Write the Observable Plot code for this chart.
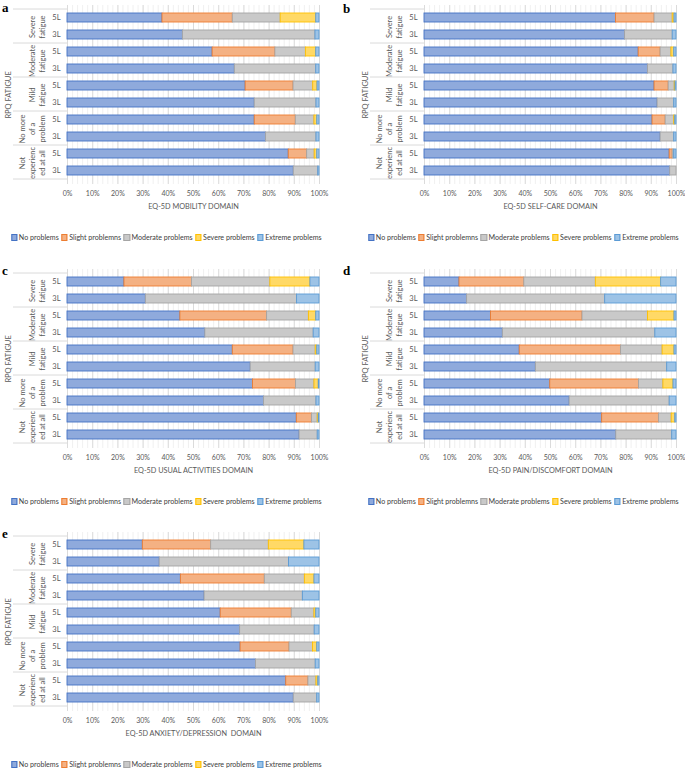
<!DOCTYPE html>
<html><head><meta charset="utf-8">
<script src="https://cdn.jsdelivr.net/npm/d3@7"></script>
<script src="https://cdn.jsdelivr.net/npm/@observablehq/plot@0.6"></script>
<style>
body{margin:0;background:#fff;font-family:Lato,"Open Sans",sans-serif;}
#root{position:relative;width:685px;height:770px;overflow:hidden;background:#fff;}
.panel{position:absolute;}
.panel svg{max-width:none;}
.letter{position:absolute;font-family:"Liberation Serif",serif;font-weight:bold;font-size:13px;line-height:1;color:#000;}
.legend{position:absolute;display:flex;white-space:nowrap;font-size:7.1px;color:#404040;align-items:center;transform:translateX(-50%);}
.sw{display:inline-block;width:4.5px;height:4.5px;border:1px solid;margin-right:1.5px;margin-left:2.5px;box-sizing:content-box;}
</style></head><body><div id="root"></div><script>
// ---- data ----
const groups = ["Severe fatigue","Moderate fatigue","Mild fatigue","No more of a problem","Not experienced at all"];
const groupLabels = ["Severe\nfatigue","Moderate\nfatigue","Mild\nfatigue","No more\nof a\nproblem","Not\nexperienc\ned at all"];
const versions = ["5L","3L"];
const levels = ["No problems","Slight problemns","Moderate problems","Severe problems","Extreme problems"];
const xTicks = [0,0.1,0.2,0.3,0.4,0.5,0.6,0.7,0.8,0.9,1];
// rows: Severe 5L, Severe 3L, Moderate 5L, Moderate 3L, Mild 5L, Mild 3L, NoMore 5L, NoMore 3L, NotExp 5L, NotExp 3L
// columns: No, Slight, Moderate, Severe, Extreme (%)
const mobility = [
  [37.7,27.9,19.0,14.1,1.3],[45.8,0,52.6,0,1.6],
  [57.6,24.9,12.1,4.1,1.3],[66.4,0,32.3,0,1.3],
  [70.7,19.0,7.8,1.7,0.8],[74.3,0,24.5,0,1.2],
  [74.3,16.3,7.4,1.1,0.9],[78.8,0,20.0,0,1.2],
  [87.8,7.3,3.0,1.0,0.9],[89.8,0,9.7,0,0.5]
];
const selfcare = [
  [76.0,15.3,7.2,0.7,0.8],[79.6,0,18.9,0,1.5],
  [85.0,8.7,4.3,1.1,0.9],[88.7,0,10.1,0,1.2],
  [91.3,5.6,2.4,0.3,0.4],[92.5,0,6.6,0,0.9],
  [90.5,5.2,3.4,0.4,0.5],[93.7,0,5.4,0,0.9],
  [97.3,1.2,0.6,0,0.9],[97.5,0,2.5,0,0]
];
const usual = [
  [22.6,26.8,31.1,15.9,3.6],[31.1,0,60.0,0,8.9],
  [44.8,34.4,16.6,2.9,1.3],[54.7,0,43.0,0,2.3],
  [65.6,24.1,8.8,0.6,0.9],[72.7,0,25.8,0,1.5],
  [73.6,17.1,7.3,1.7,0.3],[78.0,0,20.8,0,1.2],
  [91.0,6.0,2.3,0.4,0.3],[92.1,0,7.2,0,0.7]
];
const pain = [
  [13.9,25.7,28.4,25.9,6.1],[16.9,0,54.8,0,28.3],
  [26.4,36.3,26.0,10.5,0.8],[31.1,0,60.5,0,8.4],
  [37.8,40.2,16.5,4.7,0.8],[44.2,0,52.1,0,3.7],
  [49.9,35.2,9.7,4.0,1.2],[57.6,0,39.7,0,2.7],
  [70.5,22.6,5.0,1.4,0.5],[76.1,0,22.2,0,1.7]
];
const anxiety = [
  [29.9,27.1,22.9,14.1,6.0],[36.6,0,51.3,0,12.1],
  [45.0,33.3,15.9,3.8,2.0],[54.4,0,39.0,0,6.6],
  [60.8,28.2,9.0,0.7,1.3],[68.5,0,29.6,0,1.9],
  [68.7,19.4,9.3,1.7,0.9],[74.8,0,23.7,0,1.5],
  [86.8,8.8,3.2,0.7,0.5],[89.8,0,9.3,0,0.9]
];
const titles = ["EQ-5D MOBILITY DOMAIN","EQ-5D SELF-CARE DOMAIN","EQ-5D USUAL ACTIVITIES DOMAIN","EQ-5D PAIN/DISCOMFORT DOMAIN","EQ-5D ANXIETY/DEPRESSION  DOMAIN"];
const yTitle = "RPQ FATIGUE";
const letters = ["a","b","c","d","e"];

// ---- styles ----
const fills = ["#8FAADC","#F4B183","#C9C9C9","#FFD966","#9DC3E6"];
const strokes = ["#4472C4","#ED7D31","#A5A5A5","#FFC000","#5B9BD5"];
const panels = [
  {data: mobility, left: 0,   top: 0,   letterX: 2,   letterY: 1},
  {data: selfcare, left: 357, top: 0,   letterX: 343, letterY: 2},
  {data: usual,    left: 0,   top: 264, letterX: 2,   letterY: 264},
  {data: pain,     left: 357, top: 264, letterX: 343, letterY: 264},
  {data: anxiety,  left: 0,   top: 527, letterX: 2,   letterY: 527}
];

const keys = [];
groups.forEach(g => versions.forEach(v => keys.push(g + "|" + v)));

function buildRows(values) {
  const rows = [];
  values.forEach((r, i) => {
    const key = keys[i];
    const total = d3.sum(r);
    let c = 0;
    r.forEach((v, li) => {
      if (v > 0) rows.push({key, level: li, x1: c / total, x2: (c + v) / total});
      c += v;
    });
  });
  return rows;
}

const root = document.getElementById("root");
const W = 330, H = 215, mT = 5, mB = H - 184, mL = 67, mR = 11;
const pIn = 0.45, pOut = 0.225;
const step = (H - mT - mB) / (keys.length - pIn + 2 * pOut);

panels.forEach((p, pi) => {
  const rows = buildRows(p.data);
  const groupRows = groups.map((g, i) => ({key: g + "|5L", label: groupLabels[i]}));
  const minor = d3.range(0, 51).map(i => i / 50);
  const svg = Plot.plot({
    width: W, height: H,
    marginTop: mT, marginBottom: mB, marginLeft: mL, marginRight: mR,
    style: {fontFamily: "Lato, sans-serif", fontSize: "7px", color: "#595959", background: "transparent", overflow: "visible"},
    x: {domain: [0, 1]},
    y: {domain: keys, paddingInner: pIn, paddingOuter: pOut},
    marks: [
      Plot.ruleX(minor, {stroke: "#ececec", strokeWidth: 0.8}),
      Plot.ruleX(xTicks, {stroke: "#d6d6d6", strokeWidth: 0.8}),
      ...levels.map((l, li) => Plot.barX(rows.filter(d => d.level === li), {
        x1: "x1", x2: "x2", y: "key", fill: fills[li], stroke: strokes[li], strokeWidth: 0.9
      })),
      Plot.axisX({ticks: xTicks, tickFormat: d3.format(".0%"), tickSize: 0, tickPadding: 7, label: null, fontSize: 7}),
      Plot.text([titles[pi]], {frameAnchor: "bottom", dy: 24, text: d => d, fontSize: 7.3, fill: "#595959"}),
      Plot.axisY({tickSize: 0, tickPadding: 7, tickFormat: k => k.split("|")[1], label: null, fontSize: 7.5}),
      Plot.text(groupRows, {y: "key", text: "label", frameAnchor: "left", dx: -23, dy: step / 2,
        rotate: -90, lineAnchor: "bottom", lineHeight: 1.3, textAnchor: "middle", fontSize: 7.5, fill: "#595959"}),
      Plot.text([{key: groups[2] + "|5L", label: yTitle}], {y: "key", text: "label", frameAnchor: "left", dx: -59, dy: step / 2,
        rotate: -90, textAnchor: "middle", fontSize: 7.5, fill: "#595959"})
    ]
  });
  // group separator lines in the category label area, from the y scale
  const ys = svg.scale("y");
  const gap = (ys.step - ys.bandwidth) / 2;
  const bounds = groups.map(g => ys.apply(g + "|5L") - gap);
  bounds.push(ys.apply(keys[keys.length - 1]) + ys.bandwidth + gap);
  const g = d3.select(svg).append("g").attr("stroke", "#d0d0d0").attr("stroke-width", 0.8);
  bounds.forEach(b => g.append("line").attr("x1", 13).attr("x2", mL).attr("y1", b).attr("y2", b));

  const div = document.createElement("div");
  div.className = "panel";
  div.style.left = p.left + "px";
  div.style.top = p.top + "px";
  div.style.width = W + "px";
  div.style.height = "250px";
  div.appendChild(svg);
  const leg = document.createElement("div");
  leg.className = "legend";
  leg.style.left = "165px";
  leg.style.top = "233px";
  levels.forEach((l, li) => {
    const s = document.createElement("span");
    s.className = "sw";
    s.style.background = fills[li];
    s.style.borderColor = strokes[li];
    leg.appendChild(s);
    const t = document.createElement("span");
    t.textContent = l;
    leg.appendChild(t);
  });
  div.appendChild(leg);
  root.appendChild(div);

  const lt = document.createElement("div");
  lt.className = "letter";
  lt.textContent = letters[pi];
  lt.style.left = p.letterX + "px";
  lt.style.top = p.letterY + "px";
  root.appendChild(lt);
});
</script></body></html>
